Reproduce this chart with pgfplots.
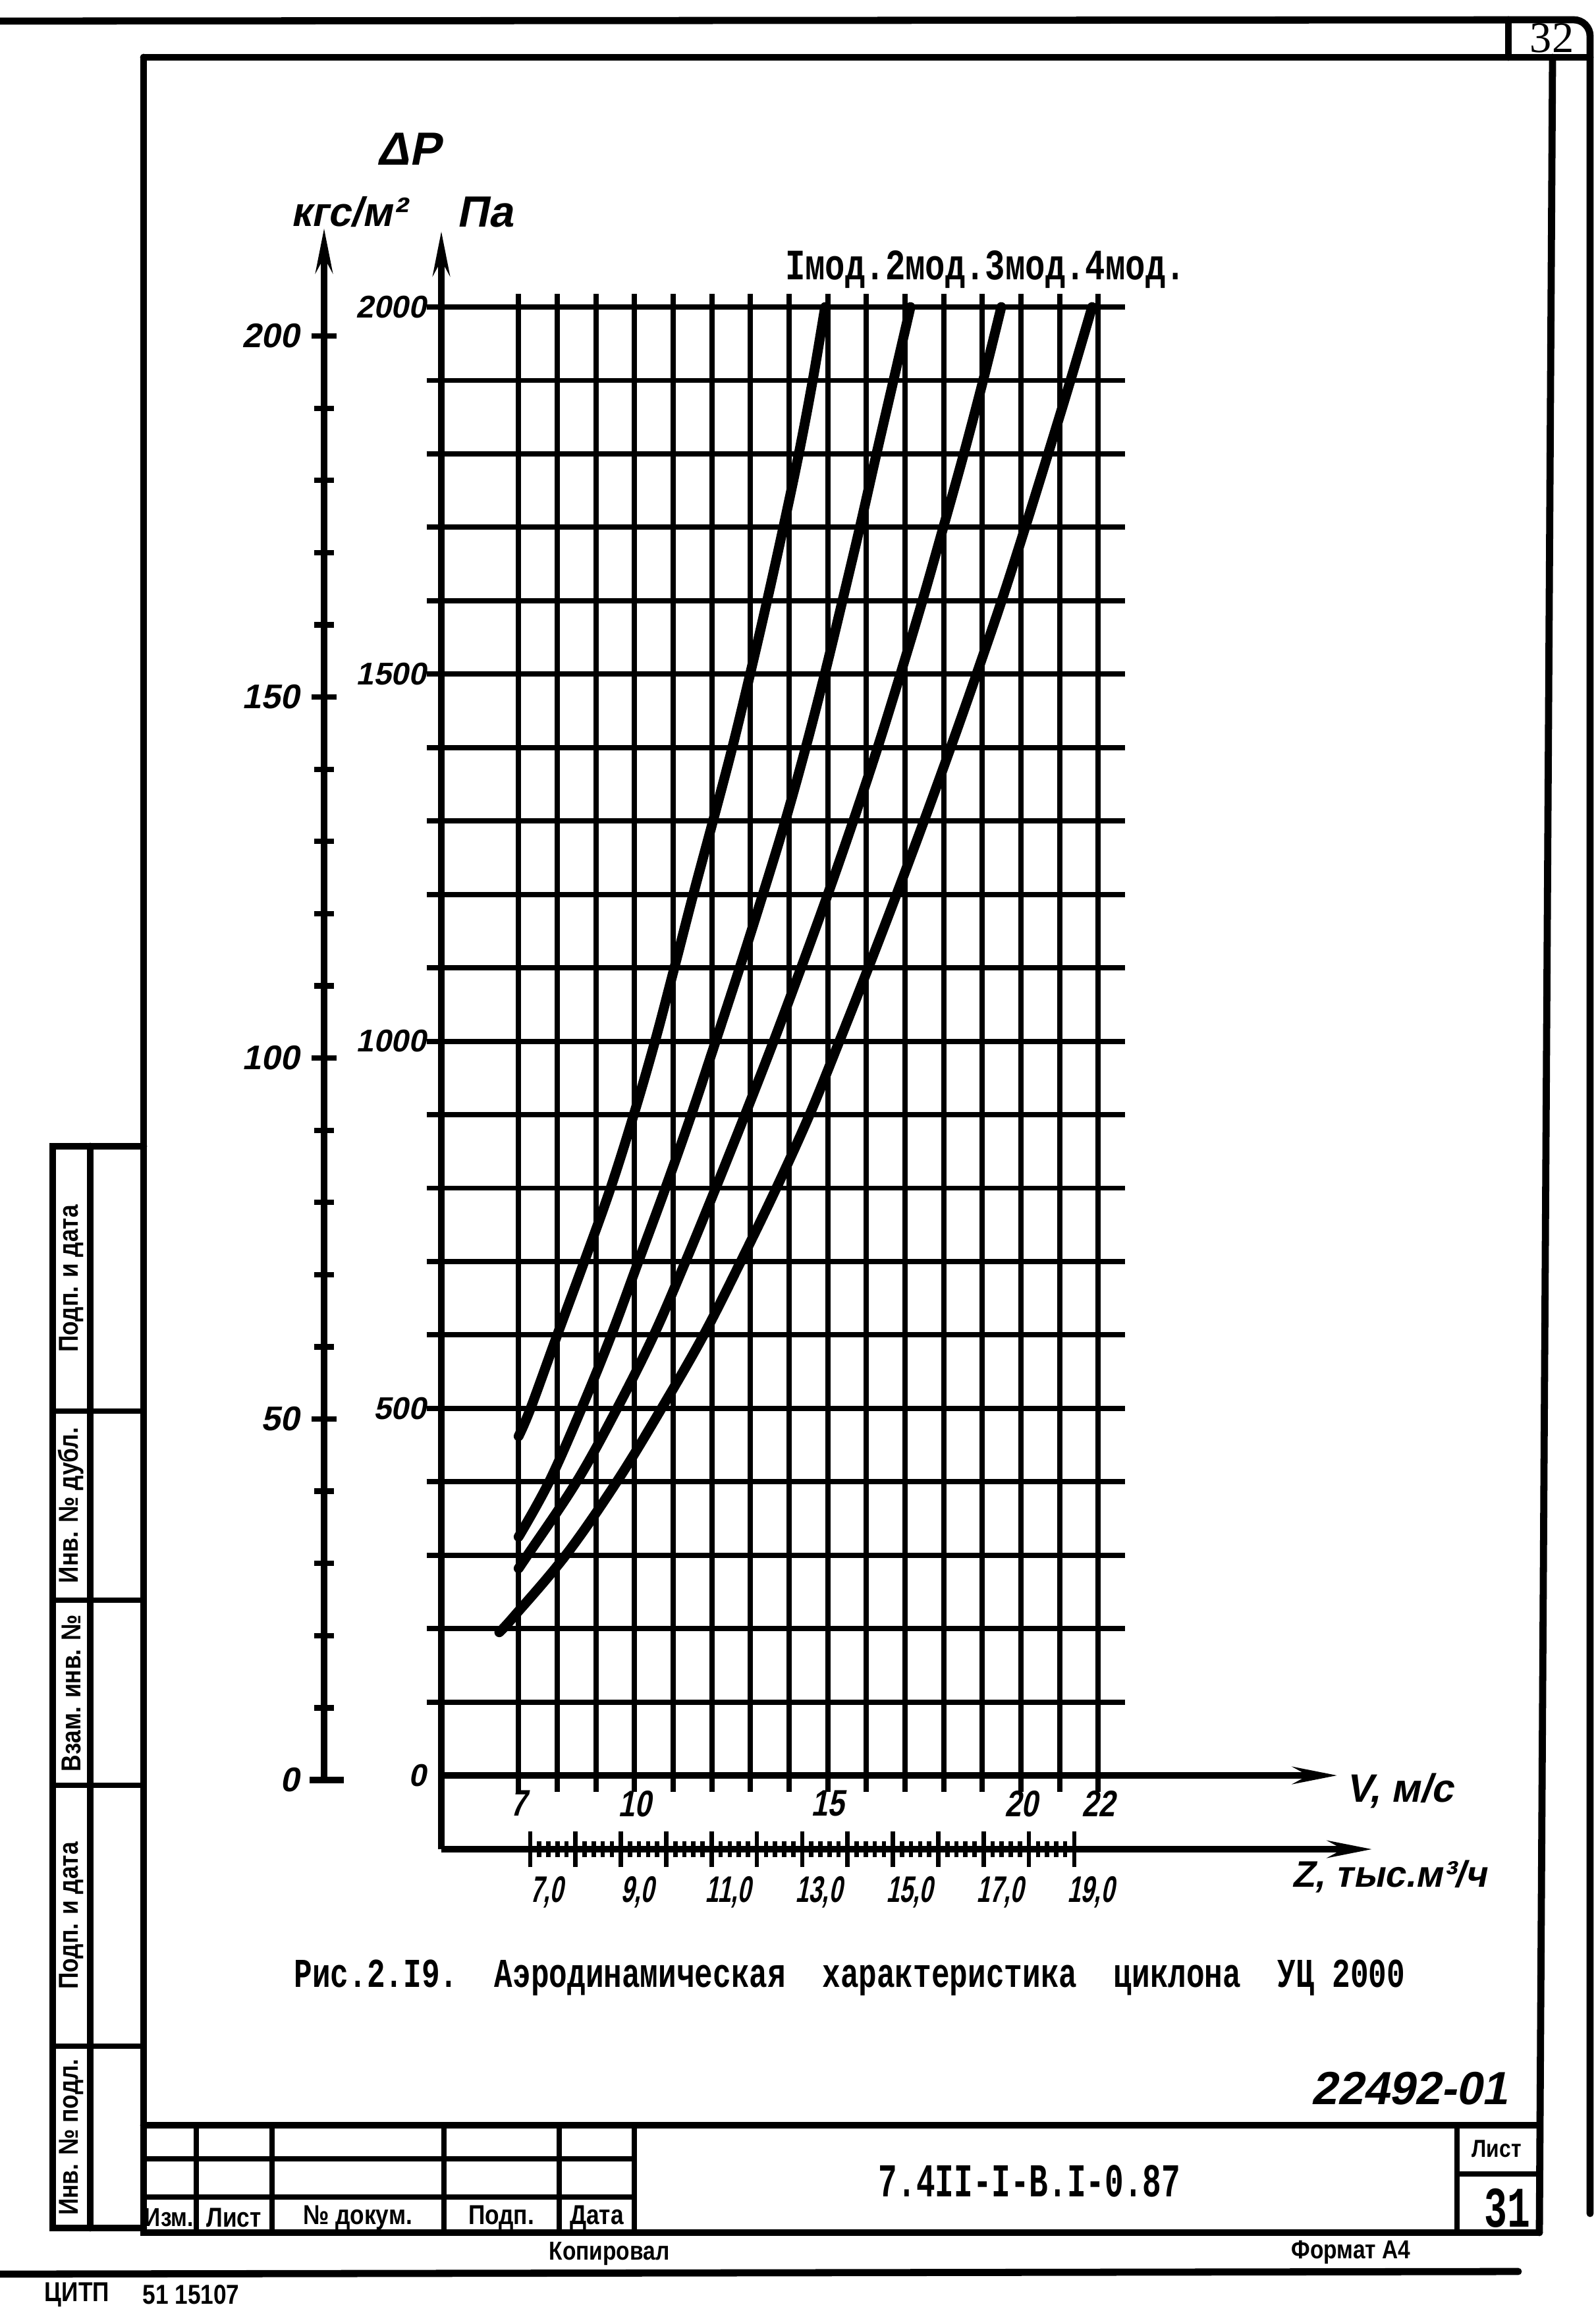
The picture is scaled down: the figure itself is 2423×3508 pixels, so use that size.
\documentclass[border=0pt]{standalone}
\usepackage{pgfplots}
\pgfplotsset{compat=1.18}
\usepackage{pgfplotstable}
\usepackage{fontspec}
\usetikzlibrary{arrows.meta}
\setmainfont{Liberation Sans}
\newfontfamily\gost[FakeStretch=0.8,FakeSlant=0.2]{Liberation Sans}
\newfontfamily\gostw[FakeSlant=0.2]{Liberation Sans}
\newfontfamily\gostn[FakeStretch=0.65,FakeSlant=0.2]{Liberation Sans}
\newfontfamily\tw{Liberation Mono}
\newfontfamily\stampf[FakeStretch=0.85]{Liberation Sans}
\newfontfamily\serf{Liberation Serif}
\newcommand\fs[1]{\fontsize{#1}{#1}\selectfont}

\pgfplotstableread{
V P
7.00 462
7.31 500
8.00 600
8.70 700
9.38 800
9.98 900
10.53 1000
11.03 1100
11.52 1200
12.03 1300
12.53 1400
12.99 1500
13.43 1600
13.85 1700
14.25 1800
14.61 1900
14.93 2000
}\modA
\pgfplotstableread{
V P
7.00 325
7.79 400
8.63 500
9.40 600
10.10 700
10.80 800
11.47 900
12.10 1000
12.72 1100
13.32 1200
13.90 1300
14.43 1400
14.92 1500
15.38 1600
15.83 1700
16.26 1800
16.70 1900
17.14 2000
}\modB
\pgfplotstableread{
V P
7.00 282
7.23 300
8.50 400
9.55 500
10.50 600
11.32 700
12.10 800
12.86 900
13.60 1000
14.31 1100
15.00 1200
15.66 1300
16.29 1400
16.88 1500
17.45 1600
17.99 1700
18.52 1800
19.02 1900
19.49 2000
}\modC
\pgfplotstableread{
V P
6.50 195
6.87 216
8.22 300
9.54 400
10.70 500
11.79 600
12.75 700
13.67 800
14.53 900
15.30 1000
16.05 1100
16.78 1200
17.49 1300
18.18 1400
18.85 1500
19.50 1600
20.11 1700
20.70 1800
21.28 1900
21.84 2000
}\modD

\begin{document}
\begin{tikzpicture}[x=0.084666mm,y=-0.084666mm]
\useasboundingbox (0,0) rectangle (2423,3508);
\coordinate (kgfO) at (492,2702);
\coordinate (mainO) at (670,2807);

% ---------- page frame ----------
\begin{scope}[line width=2.6pt, line cap=round]
\draw[rounded corners=6pt] (0,32) -- (2414,30) -- (2414,3360);
\draw (2290,30) -- (2290,87);
\draw (218,87) -- (2414,87);
\draw (2357,87) -- (2337,3389);
\draw (218,87) -- (218,3389) -- (2337,3389);
\draw (218,3226) -- (2337,3226);
\draw (218,1740) -- (80,1740) -- (80,3382) -- (218,3382);
\draw (137,1740) -- (137,3382);
\draw (0,3452) -- (2305,3448);
\end{scope}
\begin{scope}[line width=2pt]
\draw (218,3277) -- (963,3277);
\draw (218,3335) -- (963,3335);
\foreach \xx in {298,413,674,849,963,2212} \draw (\xx,3226) -- (\xx,3389);
\draw (2212,3300) -- (2337,3300);
\foreach \yy in {2142,2429,2710,3106} \draw (80,\yy) -- (218,\yy);
\end{scope}

% ---------- frame texts ----------
\node[font=\serf\fs{16}] at (2356,58) {32};
\node[font=\gostw\bfseries\fs{17}] at (2140,3170) {22492-01};
\node[font=\tw\bfseries\fs{11.5}] at (1563,3311) {\scalebox{1}[1.5]{7.4II-I-B.I-0.87}};
\node[font=\stampf\bfseries\fs{9}] at (2272,3262) {Лист};
\node[font=\tw\bfseries\fs{14}] at (2288,3352) {\scalebox{1}[1.5]{31}};
\node[font=\stampf\bfseries\fs{9.5}] at (257,3366) {Изм.};
\node[font=\stampf\bfseries\fs{10}] at (355,3366) {Лист};
\node[font=\stampf\bfseries\fs{10}] at (543,3366) {№ докум.};
\node[font=\stampf\bfseries\fs{10}] at (761,3366) {Подп.};
\node[font=\stampf\bfseries\fs{10}] at (906,3366) {Дата};
\node[font=\stampf\bfseries\fs{9.5}] at (925,3421) {Копировал};
\node[font=\stampf\bfseries\fs{9.5}] at (2051,3419) {Формат А4};
\node[font=\stampf\bfseries\fs{10}] at (117,3483) {ЦИТП};
\node[font=\stampf\bfseries\fs{10}] at (290,3483) {51 15107};
\node[font=\stampf\bfseries\fs{10}, rotate=90] at (108,1941) {Подп. и дата};
\node[font=\stampf\bfseries\fs{10}, rotate=90] at (108,2285) {Инв. № дубл.};
\node[font=\stampf\bfseries\fs{10}, rotate=90] at (108,2570) {Взам. инв. №};
\node[font=\stampf\bfseries\fs{10}, rotate=90] at (108,2908) {Подп. и дата};
\node[font=\stampf\bfseries\fs{10}, rotate=90] at (108,3244) {Инв. № подл.};

% ---------- chart texts ----------
\node[font=\gostw\bfseries\fs{17}] at (620,226) {ΔP};
\node[font=\gostw\bfseries\fs{15}] at (529,322) {кгс/м²};
\node[font=\gostw\bfseries\fs{16}] at (736,322) {Па};
\node[font=\tw\bfseries\fs{12.2}] at (1496,409) {\scalebox{1}[1.3]{Iмод.2мод.3мод.4мод.}};
\node[font=\gostw\bfseries\fs{14.5}] at (2125,2718) {V, м/с};
\node[font=\gostw\bfseries\fs{13.5}] at (2109,2848) {Z, тыс.м³/ч};
\node[font=\tw\bfseries\fs{11.1}] at (1290,3002) {\scalebox{1}[1.35]{Рис.2.I9.~~Аэродинамическая~~характеристика~~циклона~~УЦ~2000}};

% ---------- kgf/m2 axis ----------
\begin{axis}[
  at={(kgfO)}, anchor=south west,
  x=1mm, y=0.92794mm, xmin=0, xmax=1, ymin=0, ymax=215,
  enlargelimits=false,
  axis x line=none, axis y line=left,
  axis line style={line width=2.6pt,-{Stealth[length=16pt,width=6pt]}},
  ytick={0,50,100,150,200}, yticklabels={0,50,100,150,200},
  minor ytick={10,20,30,40,60,70,80,90,110,120,130,140,160,170,180,190},
  tick align=center, major tick length=9pt, minor tick length=7pt,
  every tick/.style={line width=2pt, black},
  yticklabel style={font=\gostw\bfseries\fs{12.5}, anchor=east, xshift=-1pt},
  /pgf/number format/assume math mode=true,
]
\addplot[draw=none] coordinates {(0,0) (1,215)};
\end{axis}
\draw[line width=2.6pt] (470,2702) -- (522,2702);

% ---------- Z axis ----------
\begin{axis}[
  at={(mainO)}, anchor=south west,
  x=5.8276mm, y=1mm, xmin=5.039, xmax=25.58, ymin=0, ymax=1,
  enlargelimits=false,
  axis y line=none, axis x line=bottom,
  axis line style={line width=2.6pt,-{Stealth[length=16pt,width=6pt]}},
  xtick={7,8,9,10,11,12,13,14,15,16,17,18,19},
  xticklabels={{7,0},{},{9,0},{},{11,0},{},{13,0},{},{15,0},{},{17,0},{},{19,0}},
  minor tick num=4,
  tick align=center, major tick length=13pt, minor tick length=6pt,
  every tick/.style={line width=1.6pt, black},
  xticklabel style={font=\gostn\bfseries\fs{13.5}, anchor=north, xshift=6pt},
  /pgf/number format/assume math mode=true,
]
\addplot[draw=none] coordinates {(7,0) (19,1)};
\end{axis}

% ---------- main axis ----------
\begin{axis}[
  at={(mainO)}, anchor=south west,
  x=4.9674mm, y=0.09436mm,
  xmin=5, xmax=28.2, ymin=-100.5, ymax=2104,
  enlargelimits=false, clip=false,
  axis x line=middle, axis y line=left,
  axis line style={line width=2.6pt,-{Stealth[length=16pt,width=6pt]}},
  xtick={7,10,15,20,22}, xticklabels={7,10,15,20,22},
  ytick={0,500,1000,1500,2000}, yticklabels={0,500,1000,1500,2000},
  tick style={draw=none}, major tick length=0pt,
  xticklabel style={font=\gost\bfseries\fs{13.5}, anchor=north, yshift=-2pt},
  yticklabel style={font=\gostw\bfseries\fs{11.5}, anchor=east, xshift=-2pt},
  /pgf/number format/assume math mode=true,
]
\pgfplotsinvokeforeach{7,8,9,10,11,12,13,14,15,16,17,18,19,20,21,22}{
  \draw[line width=1.9pt] (axis cs:#1,-22) -- (axis cs:#1,2018);
}
\pgfplotsinvokeforeach{100,200,300,400,500,600,700,800,900,1000,1100,1200,1300,1400,1500,1600,1700,1800,1900,2000}{
  \draw[line width=1.9pt] (axis cs:4.62,#1) -- (axis cs:22.7,#1);
}
\addplot[line width=3.6pt, smooth, tension=0.6, line cap=round, line join=round] table[x=V,y=P] {\modA};
\addplot[line width=3.6pt, smooth, tension=0.6, line cap=round, line join=round] table[x=V,y=P] {\modB};
\addplot[line width=3.6pt, smooth, tension=0.6, line cap=round, line join=round] table[x=V,y=P] {\modC};
\addplot[line width=3.6pt, smooth, tension=0.6, line cap=round, line join=round] table[x=V,y=P] {\modD};
\end{axis}
\end{tikzpicture}
\end{document}
